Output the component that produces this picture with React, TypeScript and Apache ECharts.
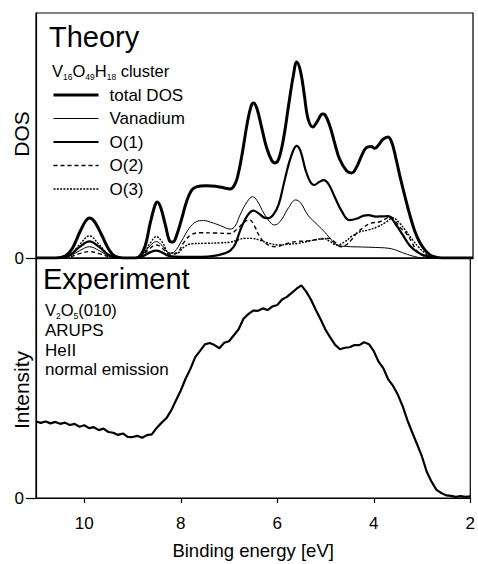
import React, { useEffect, useRef } from "react";
import * as echarts from "echarts";

const FONT = "'Liberation Sans', Arial, Helvetica, sans-serif";

const xTicks = [2, 4, 6, 8, 10];
const seriesNames = ["total DOS", "Vanadium", "O(1)", "O(2)", "O(3)"];

const totalDOS: [number, number][] = [
  [11, 0], [10.6, 0], [10.4, 0.8], [10.25, 4], [10.1, 10.5], [9.98, 15], [9.9, 16.3], [9.8, 15], [9.65, 9.5],
  [9.5, 3.5], [9.38, 0.8], [9.2, 0], [8.95, 0], [8.85, 1], [8.75, 5], [8.65, 14], [8.55, 21.5], [8.5, 22.9],
  [8.43, 20.5], [8.33, 13], [8.25, 7], [8.18, 6.5], [8.1, 9.5], [8.0, 16], [7.9, 23], [7.8, 27.5], [7.7, 29],
  [7.5, 29.5], [7.3, 29.3], [7.1, 28.5], [7.0, 28.2], [6.92, 29.5], [6.85, 33], [6.75, 43], [6.65, 55],
  [6.57, 62], [6.52, 63.3], [6.45, 61], [6.35, 53], [6.25, 45], [6.15, 40], [6.08, 38.8], [6.0, 40.5],
  [5.9, 49], [5.8, 62], [5.7, 74.5], [5.63, 80], [5.55, 76], [5.47, 66], [5.4, 57], [5.3, 53.5], [5.2, 56],
  [5.1, 58.8], [5.05, 58.5], [4.95, 54], [4.85, 47], [4.75, 40.5], [4.6, 35.5], [4.5, 34.7], [4.4, 37],
  [4.3, 41.5], [4.2, 45], [4.1, 45.5], [4.02, 44.8], [3.95, 46], [3.85, 48.5], [3.75, 49.4], [3.67, 47],
  [3.58, 40], [3.5, 33], [3.4, 25], [3.3, 17.5], [3.2, 11], [3.1, 6.5], [3.0, 3.5], [2.9, 1.5], [2.8, 0.5],
  [2.7, 0.1], [2.6, 0], [2, 0],
];

const vanadium: [number, number][] = [
  [11, 0], [10.5, 0], [10.3, 0.8], [10.1, 3], [9.9, 4.6], [9.7, 3], [9.5, 0.8], [9.3, 0], [8.95, 0], [8.8, 1.5],
  [8.65, 5], [8.52, 6.7], [8.4, 5], [8.25, 2], [8.15, 2.5], [8.0, 7], [7.85, 12], [7.7, 14.8], [7.55, 15.3],
  [7.4, 14.6], [7.2, 13.2], [7.0, 11.8], [6.9, 13], [6.8, 17.5], [6.65, 23], [6.54, 25], [6.45, 23.5],
  [6.3, 18], [6.15, 14], [6.08, 13.5], [5.95, 15.5], [5.8, 20.5], [5.65, 23.7], [5.55, 22.5], [5.4, 17.5],
  [5.2, 13.5], [5.05, 10.5], [4.9, 7], [4.8, 5.3], [4.6, 4.7], [4.3, 4.5], [4.0, 4.3], [3.75, 4], [3.6, 3.3],
  [3.4, 1.8], [3.2, 0.6], [3.0, 0], [2, 0],
];

const oxygen1: [number, number][] = [
  [11, 0], [10.5, 0], [10.3, 1.2], [10.1, 4.5], [9.9, 6.8], [9.7, 4.5], [9.5, 1.2], [9.3, 0], [8.95, 0],
  [8.8, 0.7], [8.65, 2.3], [8.52, 3], [8.4, 2.2], [8.25, 0.8], [8.0, 0.5], [7.6, 0.5], [7.3, 1], [7.1, 2],
  [7.0, 3], [6.9, 5.5], [6.8, 11], [6.7, 15.5], [6.6, 18.5], [6.52, 19.3], [6.4, 18], [6.3, 16.5], [6.2, 16.3],
  [6.1, 18], [6.0, 22], [5.9, 30], [5.8, 38], [5.7, 44], [5.63, 45.8], [5.55, 43.5], [5.45, 36], [5.35, 31],
  [5.27, 29.8], [5.17, 31], [5.07, 31.8], [4.97, 30], [4.85, 25], [4.7, 19], [4.55, 15.5], [4.4, 16],
  [4.25, 17.3], [4.15, 17.5], [4.0, 16.9], [3.85, 17], [3.75, 17.1], [3.6, 14], [3.45, 9.5], [3.3, 5],
  [3.15, 2.5], [3.0, 1], [2.85, 0.3], [2.7, 0], [2, 0],
];

const oxygen2: [number, number][] = [
  [11, 0], [10.5, 0], [10.3, 0.5], [10.1, 1.8], [9.9, 2.6], [9.7, 1.8], [9.5, 0.5], [9.3, 0], [8.95, 0],
  [8.8, 1.2], [8.65, 4], [8.52, 5.3], [8.4, 4], [8.25, 1.5], [8.1, 2], [7.95, 6.5], [7.8, 9.5], [7.6, 10.3],
  [7.3, 10.2], [7.0, 10], [6.85, 12], [6.7, 14.8], [6.6, 15.5], [6.5, 13], [6.4, 9], [6.3, 6.5], [6.15, 4.8],
  [6.05, 4.6], [5.9, 5.5], [5.75, 6.3], [5.6, 6.8], [5.4, 7], [5.2, 7.6], [4.95, 8], [4.85, 6.5], [4.71, 4.6],
  [4.6, 5.5], [4.5, 7.5], [4.4, 10], [4.25, 12.5], [4.1, 14.2], [3.92, 14.8], [3.8, 16], [3.71, 16.9],
  [3.6, 15], [3.5, 12.5], [3.37, 10], [3.25, 6], [3.16, 3], [3.05, 1.2], [2.95, 0.3], [2.8, 0], [2, 0],
];

const oxygen3: [number, number][] = [
  [11, 0], [10.5, 0], [10.3, 1.3], [10.1, 5.5], [9.9, 9.0], [9.7, 5.5], [9.5, 1.3], [9.3, 0], [8.95, 0],
  [8.8, 1.5], [8.65, 6], [8.52, 8.7], [8.4, 6.5], [8.25, 2], [8.1, 2], [7.95, 4.5], [7.8, 5.8], [7.5, 6],
  [7.2, 6.2], [7.0, 6.5], [6.85, 7.3], [6.7, 8], [6.55, 8], [6.4, 7.3], [6.2, 6], [6.0, 5.3], [5.8, 5.6],
  [5.6, 6], [5.4, 6.8], [5.2, 7.6], [5.08, 8], [4.95, 6.8], [4.8, 5.3], [4.65, 6.5], [4.5, 8.8], [4.33, 10.7],
  [4.16, 11.4], [3.96, 12.8], [3.8, 14.5], [3.65, 16.3], [3.5, 14], [3.38, 11], [3.24, 7.3], [3.1, 4],
  [2.99, 2], [2.9, 0.8], [2.8, 0.2], [2.7, 0], [2, 0],
];

const experiment: [number, number][] = [
  [11.0, 31.9], [10.9, 31.3], [10.8, 31.9], [10.7, 31.1], [10.6, 31.7], [10.5, 30.9], [10.4, 31.4], [10.3, 30.4],
  [10.2, 30.9], [10.1, 29.7], [10.0, 30.3], [9.9, 29.1], [9.8, 29.5], [9.7, 28.3], [9.6, 28.9], [9.5, 27.5],
  [9.4, 27.2], [9.3, 26.3], [9.2, 26.9], [9.1, 25.5], [9.0, 25.4], [8.9, 25.9], [8.8, 25.1], [8.7, 26.2],
  [8.6, 26.5], [8.5, 29.2], [8.4, 31.3], [8.3, 33.2], [8.2, 36.4], [8.1, 40.6], [8.0, 44.8], [7.9, 49.7],
  [7.8, 53.8], [7.7, 58.7], [7.6, 61.3], [7.5, 64.0], [7.4, 64.6], [7.3, 63.7], [7.2, 62.4], [7.1, 64.7],
  [7.0, 65.3], [6.9, 67.8], [6.8, 70.3], [6.7, 74.7], [6.6, 76.6], [6.5, 78.1], [6.4, 78.0], [6.3, 79.0],
  [6.2, 78.3], [6.1, 79.8], [6.0, 80.4], [5.9, 82.7], [5.8, 83.8], [5.7, 85.5], [5.6, 87.2], [5.5, 88.6],
  [5.4, 86.0], [5.3, 82.6], [5.2, 78.3], [5.1, 74.4], [5.0, 70.1], [4.9, 66.8], [4.8, 63.8], [4.7, 62.0],
  [4.6, 62.6], [4.5, 62.8], [4.4, 63.7], [4.3, 63.7], [4.2, 64.9], [4.1, 64.1], [4.0, 61.2], [3.9, 56.8],
  [3.8, 54.0], [3.7, 49.4], [3.6, 46.7], [3.5, 43.0], [3.4, 38.2], [3.3, 32.2], [3.2, 27.2], [3.1, 22.3],
  [3.0, 17.2], [2.9, 10.8], [2.8, 6.7], [2.7, 3.4], [2.6, 2.1], [2.5, 1.1], [2.4, 0.9], [2.3, 0.5],
  [2.2, 0.8], [2.1, 0.5], [2.0, 0.7],
];

const richStyles = {
  a: { fontSize: 16.5, fontFamily: FONT, fill: "#000", lineHeight: 20 },
  b: { fontSize: 8.5, fontFamily: FONT, fill: "#000", lineHeight: 13, verticalAlign: "bottom" },
};

function plainText(text: string, x: number, y: number, fontSize: number, rotation = 0, align = "left") {
  return {
    type: "text",
    x,
    y,
    rotation,
    style: {
      text,
      fontSize,
      fontFamily: FONT,
      fill: "#000",
      align,
      textAlign: align,
      verticalAlign: "middle",
      textVerticalAlign: "middle",
    },
  };
}

function richText(text: string, x: number, y: number) {
  return {
    type: "text",
    x,
    y,
    style: {
      text,
      rich: richStyles,
      fontFamily: FONT,
      fill: "#000",
      align: "left",
      textAlign: "left",
      verticalAlign: "top",
      textVerticalAlign: "top",
    },
  };
}

const styleOf: Record<string, { width: number; type: any }> = {
  "total DOS": { width: 3, type: "solid" },
  Vanadium: { width: 1, type: "solid" },
  "O(1)": { width: 2.2, type: "solid" },
  "O(2)": { width: 1.4, type: [4, 3] },
  "O(3)": { width: 1.4, type: [2, 1.3] },
};

export default function App() {
  const ref = useRef<HTMLDivElement>(null);
  useEffect(() => {
    const chart = echarts.init(ref.current!, null, { renderer: "svg" });
    const axisLine = { show: true, lineStyle: { color: "#000", width: 1.2 } };
    const lineSeries = (name: string, data: [number, number][], z: number) => ({
      name,
      type: "line",
      xAxisIndex: 0,
      yAxisIndex: 0,
      data,
      smooth: 0.4,
      showSymbol: false,
      symbol: "none",
      z,
      color: "#000",
      itemStyle: { color: "#000" },
      lineStyle: { color: "#000", width: styleOf[name].width, type: styleOf[name].type },
      emphasis: { disabled: true },
    });
    chart.setOption({
      animation: false,
      backgroundColor: "#fff",
      color: ["#000"],
      textStyle: { fontFamily: FONT, color: "#000" },
      grid: [
        { left: 36, top: 13, width: 437, height: 245, show: true, borderColor: "#000", borderWidth: 1.2 },
        { left: 36, top: 258, width: 437, height: 240, show: true, borderColor: "#000", borderWidth: 1.2 },
      ],
      xAxis: [
        {
          gridIndex: 0, type: "value", min: 2, max: 11, interval: 2, inverse: true,
          axisLine, axisTick: { show: false }, axisLabel: { show: false }, splitLine: { show: false },
        },
        {
          gridIndex: 1, type: "value", min: 2, max: 11, interval: 2, inverse: true,
          axisLine,
          axisTick: { show: true, length: 5, customValues: xTicks, lineStyle: { color: "#000", width: 1.2 } },
          axisLabel: {
            show: true, customValues: xTicks, fontSize: 17, color: "#000", margin: 17, fontFamily: FONT,
            formatter: (v: number) => (xTicks.includes(v) ? String(v) : ""),
          },
          splitLine: { show: false },
          name: "Binding energy [eV]",
          nameLocation: "middle",
          nameGap: 43,
          nameTextStyle: { fontSize: 18.5, color: "#000", fontFamily: FONT },
        },
      ],
      yAxis: [
        {
          gridIndex: 0, type: "value", min: 0, max: 100, interval: 100,
          axisLine,
          axisTick: { show: true, length: 10, customValues: [0], lineStyle: { color: "#000", width: 1.2 } },
          axisLabel: { show: true, customValues: [0], fontSize: 17, color: "#000", margin: 12, formatter: (v: number) => (v === 0 ? "0" : "") },
          splitLine: { show: false },
        },
        {
          gridIndex: 1, type: "value", min: 0, max: 100, interval: 100,
          axisLine,
          axisTick: { show: true, length: 10, customValues: [0], lineStyle: { color: "#000", width: 1.2 } },
          axisLabel: { show: true, customValues: [0], fontSize: 17, color: "#000", margin: 12, formatter: (v: number) => (v === 0 ? "0" : "") },
          splitLine: { show: false },
        },
      ],
      legend: {
        data: seriesNames.map((n) => ({
          name: n,
          lineStyle: { color: "#000", width: styleOf[n].width, type: styleOf[n].type },
        })),
        orient: "vertical",
        left: 47,
        top: 81.5,
        itemWidth: 45,
        itemHeight: 14,
        itemGap: 6.5,
        selectedMode: false,
        itemStyle: { opacity: 0, color: "transparent", borderColor: "transparent", borderWidth: 0 },
        textStyle: { fontSize: 17, color: "#000", fontFamily: FONT, padding: [0, 0, 0, 6] },
      },
      graphic: [
        plainText("Theory", 49, 37, 29),
        plainText("Experiment", 43, 278.5, 29),
        richText("{a|V}{b|16}{a|O}{b|49}{a|H}{b|18}{a| cluster}", 52, 61),
        richText("{a|V}{b|2}{a|O}{b|5}{a|(010)}", 45, 300),
        plainText("ARUPS", 45, 330.5, 17),
        plainText("HeII", 45, 350, 17),
        plainText("normal emission", 45, 369.5, 17),
        plainText("DOS", 21, 134, 21, Math.PI / 2, "center"),
        plainText("Intensity", 21, 390, 21, Math.PI / 2, "center"),
      ],
      series: [
        lineSeries("O(3)", oxygen3, 2),
        lineSeries("O(2)", oxygen2, 3),
        lineSeries("Vanadium", vanadium, 4),
        lineSeries("O(1)", oxygen1, 5),
        lineSeries("total DOS", totalDOS, 6),
        {
          name: "Experiment",
          type: "line",
          xAxisIndex: 1,
          yAxisIndex: 1,
          data: experiment,
          showSymbol: false,
          symbol: "none",
          color: "#000",
          lineStyle: { color: "#000", width: 2.2 },
          emphasis: { disabled: true },
        },
      ],
    });
    return () => chart.dispose();
  }, []);
  return (
    <div
      ref={ref}
      style={{ position: "absolute", left: 0, top: 0, width: 478, height: 564, background: "#fff" }}
    />
  );
}
